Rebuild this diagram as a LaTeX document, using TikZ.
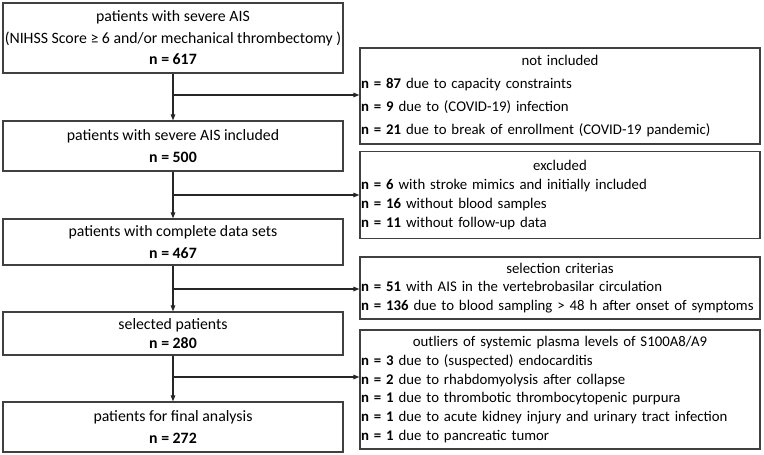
\documentclass[tikz,border=0pt]{standalone}
\usepackage{fontspec}
\setmainfont{Carlito}
\usetikzlibrary{arrows.meta,calc}
\begin{document}
\begin{tikzpicture}[x=1pt,y=-1pt,
  box/.style={draw=black!75,line width=1.2pt,minimum width=340pt,inner sep=0pt,align=center,font=\fontsize{15.8}{21.5}\selectfont},
  sidebox/.style={draw=black!75,line width=1.2pt,minimum width=400pt,text width=398pt,inner xsep=1pt,inner ysep=0pt,align=left,font=\fontsize{14.8}{18.8}\selectfont},
  arr/.style={draw=black!85,line width=1.1pt,-{Triangle[length=6pt,width=4.5pt]}}]
\useasboundingbox (0,0) rectangle (764,455);
\node[box,minimum height=70pt] (b1) at (173,38) {patients with severe AIS\\(NIHSS Score ≥ 6 and/or mechanical thrombectomy )\\\textbf{n = 617}};
\node[box,minimum height=50pt] (b2) at (173,146) {patients with severe AIS included\\\textbf{n = 500}};
\node[box,minimum height=46pt] (b3) at (173,242) {patients with complete data sets\\\textbf{n = 467}};
\node[box,minimum height=43pt,font=\fontsize{15.8}{19.5}\selectfont] (b4) at (173,333.5) {selected patients\\\textbf{n = 280}};
\node[box,minimum height=50pt] (b5) at (173,427) {patients for final analysis\\\textbf{n = 272}};
\node[sidebox,minimum height=96pt,font=\fontsize{14.8}{23}\selectfont] (r1) at (560,96) {\makebox[\linewidth]{not included}\\\textbf{n = 87} due to capacity constraints\\\textbf{n = 9} due to (COVID-19) infection\\\mbox{\textbf{n = 21} due to break of enrollment (COVID-19 pandemic)}};
\node[sidebox,minimum height=87pt,font=\fontsize{14.8}{19.2}\selectfont] (r2) at (560,195) {\makebox[\linewidth]{excluded}\\\textbf{n = 6} with stroke mimics and initially included\\\textbf{n = 16} without blood samples\\\textbf{n = 11} without follow-up data};
\node[sidebox,minimum height=62pt] (r3) at (560,288) {\makebox[\linewidth]{selection criterias}\\\mbox{\textbf{n = 51} with AIS in the vertebrobasilar circulation}\\\mbox{\textbf{n = 136} due to blood sampling > 48 h after onset of symptoms}};
\node[sidebox,minimum height=119pt] (r4) at (560,389.5) {\makebox[\linewidth]{outliers of systemic plasma levels of S100A8/A9}\\\textbf{n = 3} due to (suspected) endocarditis\\\textbf{n = 2} due to rhabdomyolysis after collapse\\\textbf{n = 1} due to thrombotic thrombocytopenic purpura\\\mbox{\textbf{n = 1} due to acute kidney injury and urinary tract infection}\\\textbf{n = 1} due to pancreatic tumor};
\coordinate (j1) at (173,95);
\coordinate (j2) at (173,195);
\coordinate (j3) at (173,289);
\coordinate (j4) at (173,377);
\draw[arr] (b1) -- (b2);
\draw[arr] (b2) -- (b3);
\draw[arr] (b3) -- (b4);
\draw[arr] (b4) -- (b5);
\draw[arr] (j1) -- (j1 -| r1.west);
\draw[arr] (j2) -- (j2 -| r2.west);
\draw[arr] (j3) -- (j3 -| r3.west);
\draw[arr] (j4) -- (j4 -| r4.west);
\end{tikzpicture}
\end{document}
